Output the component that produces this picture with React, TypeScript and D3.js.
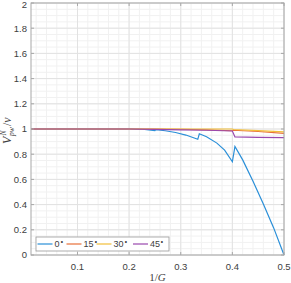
import * as d3 from 'd3';

const angles = ['0', '15', '30', '45'];
const colors = ['#2a8fd8', '#e8703a', '#f2bf3a', '#9a48ad'];

// 1/G positions and V/v values, one array per angle
const x0 = [0.01, 0.2, 0.23, 0.25, 0.252, 0.27, 0.29, 0.31, 0.333, 0.336, 0.35, 0.37, 0.385, 0.4, 0.405, 0.42, 0.44, 0.46, 0.48, 0.5];
const y0 = [1.0, 1.0, 0.996, 0.988, 0.995, 0.986, 0.972, 0.952, 0.918, 0.962, 0.938, 0.888, 0.832, 0.74, 0.862, 0.755, 0.585, 0.405, 0.215, 0.0];
const x15 = [0.01, 0.25, 0.3, 0.35, 0.4, 0.402, 0.45, 0.5];
const y15 = [1.0, 1.0, 0.998, 0.993, 0.986, 0.99, 0.98, 0.966];
const x30 = [0.01, 0.4, 0.402, 0.45, 0.5];
const y30 = [1.0, 1.0, 0.996, 0.987, 0.977];
const x45 = [0.01, 0.2, 0.25, 0.3, 0.35, 0.4, 0.405, 0.45, 0.5];
const y45 = [1.0, 1.0, 0.997, 0.993, 0.99, 0.984, 0.937, 0.934, 0.932];

const xTicks = [0.1, 0.2, 0.3, 0.4, 0.5];
const yTicks = [0, 0.2, 0.4, 0.6, 0.8, 1, 1.2, 1.4, 1.6, 1.8, 2];

const W = 291;
const H = 283;
const m = { left: 31, right: 284, top: 3, bottom: 255 };

export default function App() {
  const x = d3.scaleLinear().domain([0.01, 0.5]).range([m.left, m.right]);
  const y = d3.scaleLinear().domain([0, 2]).range([m.bottom, m.top]);

  const series = [
    d3.zip(x0, y0),
    d3.zip(x15, y15),
    d3.zip(x30, y30),
    d3.zip(x45, y45),
  ] as [number, number][][];

  const line = d3.line<[number, number]>()
    .x(d => x(d[0]))
    .y(d => y(d[1]));

  const xMinor = d3.range(0.02, 0.5001, 0.02).map(v => +v.toFixed(2));
  const yMinor = d3.range(0, 2.0001, 0.05).map(v => +v.toFixed(2));

  const sans = 'Liberation Sans, Arial, sans-serif';
  const serif = 'Liberation Serif, Times New Roman, serif';

  // legend layout
  const legX = 36, legY = 237, legW = 133, legH = 14;
  const legItems = [37.5, 66.5, 96.5, 133];

  return (
    <svg width={W} height={H} style={{ position: 'absolute', left: 0, top: 0 }}>
      <rect x={0} y={0} width={W} height={H} fill="#fff" />
      <g>
        {xMinor.map(v => (
          <line key={'xm' + v} x1={x(v)} x2={x(v)} y1={m.top} y2={m.bottom} stroke="#f1f1f1" strokeWidth={1} />
        ))}
        {yMinor.map(v => (
          <line key={'ym' + v} x1={m.left} x2={m.right} y1={y(v)} y2={y(v)} stroke="#f1f1f1" strokeWidth={1} />
        ))}
        {xTicks.map(v => (
          <line key={'xg' + v} x1={x(v)} x2={x(v)} y1={m.top} y2={m.bottom} stroke="#e2e2e2" strokeWidth={1} />
        ))}
        {yTicks.map(v => (
          <line key={'yg' + v} x1={m.left} x2={m.right} y1={y(v)} y2={y(v)} stroke="#e2e2e2" strokeWidth={1} />
        ))}
      </g>
      {series.map((s, i) => (
        <path key={i} d={line(s) || ''} fill="none" stroke={colors[i]} strokeWidth={1.2} />
      ))}
      <rect x={m.left} y={m.top} width={m.right - m.left} height={m.bottom - m.top} fill="none" stroke="#a8a8a8" strokeWidth={1} />
      {xTicks.map(v => (
        <g key={'xt' + v}>
          <line x1={x(v)} x2={x(v)} y1={m.bottom} y2={m.bottom - 3} stroke="#a8a8a8" />
          <line x1={x(v)} x2={x(v)} y1={m.top} y2={m.top + 3} stroke="#a8a8a8" />
          <text x={x(v)} y={270} textAnchor="middle" fontFamily={sans} fontSize={9.5} fill="#404040">{v}</text>
        </g>
      ))}
      {yTicks.map(v => (
        <g key={'yt' + v}>
          <line x1={m.left} x2={m.left + 3} y1={y(v)} y2={y(v)} stroke="#a8a8a8" />
          <line x1={m.right} x2={m.right - 3} y1={y(v)} y2={y(v)} stroke="#a8a8a8" />
          <text x={27} y={Math.max(y(v) + 3.4, 8)} textAnchor="end" fontFamily={sans} fontSize={9.5} fill="#404040">{v}</text>
        </g>
      ))}
      <text x={(m.left + m.right) / 2} y={281} textAnchor="middle" fontFamily={serif} fontSize={11} fill="#404040">
        1/<tspan fontStyle="italic">G</tspan>
      </text>
      <g transform="translate(11, 128) rotate(-90)" fontFamily={serif} fill="#404040">
        <text x={-16} y={0} fontSize={12} fontStyle="italic">V</text>
        <text x={-7.5} y={-5} fontSize={7.5} fontStyle="italic">N</text>
        <text x={-8} y={3} fontSize={7.5} fontStyle="italic">pw</text>
        <text x={2} y={0} fontSize={12}>/<tspan fontStyle="italic">v</tspan></text>
      </g>
      <rect x={legX} y={legY} width={legW} height={legH} fill="#fff" stroke="#9a9a9a" strokeWidth={0.8} />
      {angles.map((a, i) => (
        <g key={a}>
          <line x1={legItems[i]} x2={legItems[i] + 15} y1={legY + legH / 2} y2={legY + legH / 2} stroke={colors[i]} strokeWidth={1.2} />
          <text x={legItems[i] + 17} y={legY + legH / 2 + 3.4} fontFamily={sans} fontSize={9} fill="#404040">
            {a}<tspan fontSize={6} dy={-4}>∘</tspan>
          </text>
        </g>
      ))}
    </svg>
  );
}
